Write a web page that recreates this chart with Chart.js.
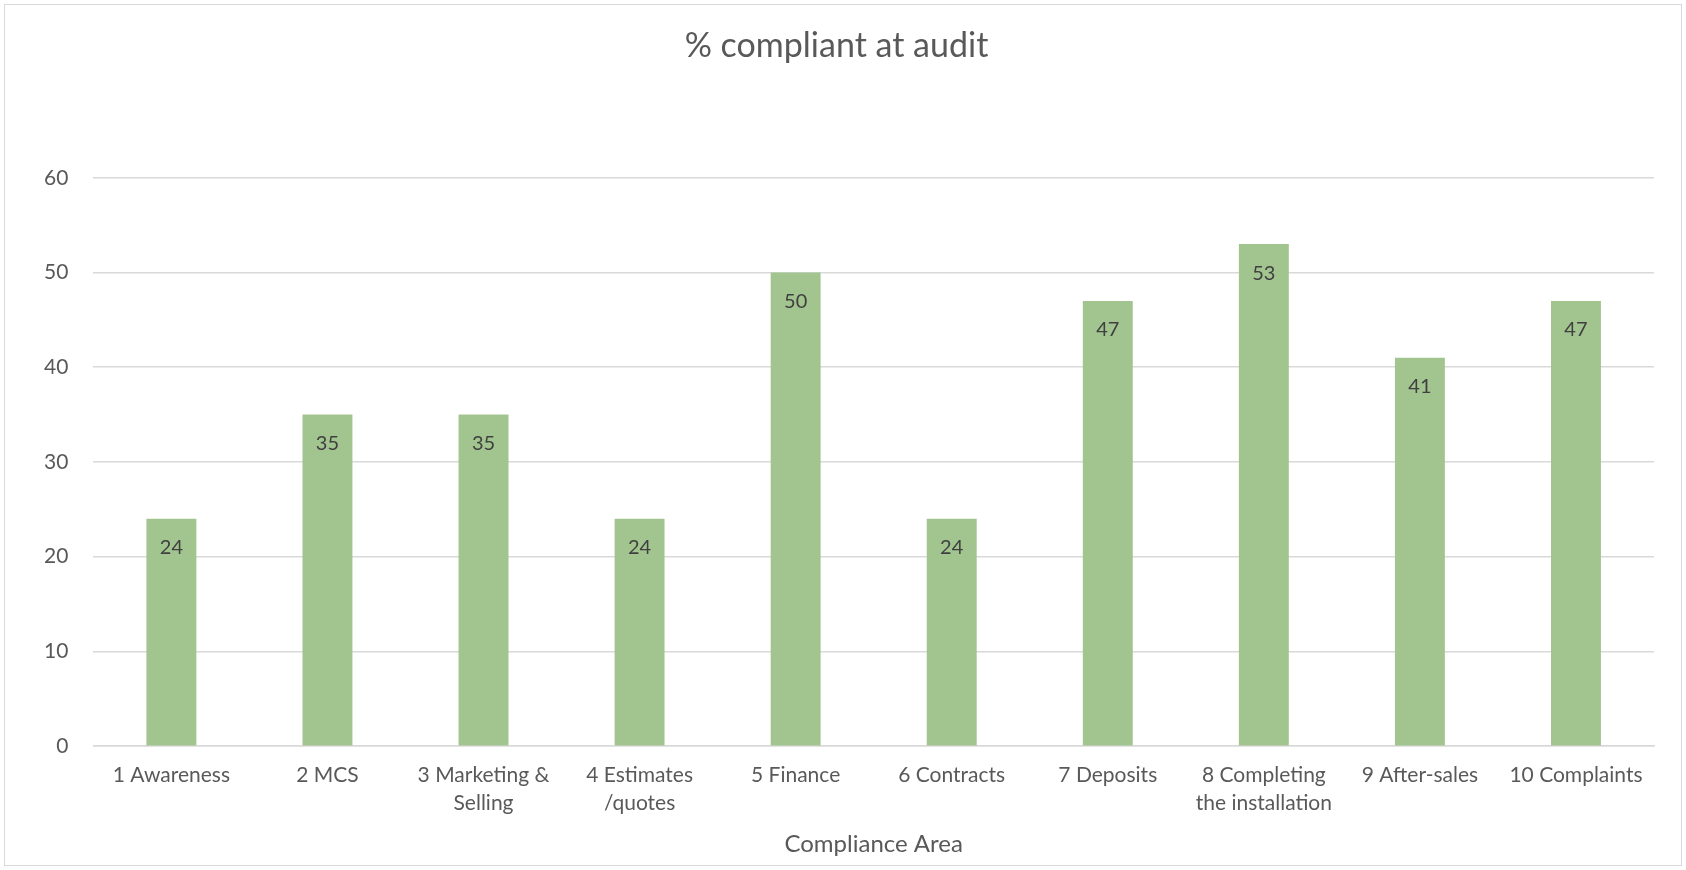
<!DOCTYPE html>
<html>
<head>
<meta charset="utf-8">
<script src="https://cdn.jsdelivr.net/npm/chart.js@4"></script>
<style>
    body { margin: 0; background: #fff; }
    #wrap {
        position: absolute; left: 4px; top: 4px;
        width: 1676px; height: 860px;
        border: 1px solid #d9d9d9;
    }
</style>
</head>
<body>
<div id="wrap"><canvas id="auditChart"></canvas></div>
<script>
// Dane wykresu
const categories = [
    '1 Awareness', '2 MCS', ['3 Marketing &', 'Selling'], ['4 Estimates', '/quotes'],
    '5 Finance', '6 Contracts', '7 Deposits', ['8 Completing', 'the installation'],
    '9 After-sales', '10 Complaints'
];
const compliantValues = [24, 35, 35, 24, 50, 24, 47, 53, 41, 47];
const yTicks = [0, 10, 20, 30, 40, 50, 60];

const fontFamily = 'Lato, "Open Sans", sans-serif';

// Etykiety wartości wewnątrz słupków
const valueLabels = {
    id: 'valueLabels',
    afterDatasetsDraw(chart) {
        const ctx = chart.ctx;
        const meta = chart.getDatasetMeta(0);
        ctx.save();
        ctx.font = '20px ' + fontFamily;
        ctx.fillStyle = '#404040';
        ctx.textAlign = 'center';
        ctx.textBaseline = 'middle';
        meta.data.forEach((bar, i) => {
            ctx.fillText(compliantValues[i], bar.x, bar.y + 29);
        });
        ctx.restore();
    }
};

const ctx = document.getElementById('auditChart').getContext('2d');

const chart = new Chart(ctx, {
    type: 'bar',
    data: {
        labels: categories,
        datasets: [{
            label: '% compliant at audit',
            data: compliantValues,
            backgroundColor: '#a2c590',
            barPercentage: 0.32,
            categoryPercentage: 1.0
        }]
    },
    options: {
        responsive: true,
        maintainAspectRatio: false,
        animation: false,
        layout: {
            padding: { left: 14, right: 27, top: 21, bottom: 9 }
        },
        plugins: {
            legend: { display: false },
            tooltip: { enabled: false },
            title: {
                display: true,
                text: '% compliant at audit',
                color: '#595959',
                font: { family: fontFamily, size: 34, weight: 'normal' },
                padding: { top: 0, bottom: 111 }
            }
        },
        scales: {
            x: {
                grid: { display: false, drawTicks: false },
                border: { color: '#d9d9d9', width: 1.5 },
                ticks: {
                    color: '#595959',
                    font: { family: fontFamily, size: 21, lineHeight: 1.33 },
                    padding: 15,
                    maxRotation: 0,
                    autoSkip: false
                },
                title: {
                    display: true,
                    text: 'Compliance Area',
                    color: '#595959',
                    font: { family: fontFamily, size: 24, lineHeight: 1.0 },
                    padding: { top: 0, bottom: 0 }
                }
            },
            y: {
                min: 0,
                max: 60,
                afterBuildTicks: axis => { axis.ticks = yTicks.map(v => ({ value: v })); },
                grid: { color: '#d9d9d9', lineWidth: 1.5, drawTicks: false },
                border: { display: false },
                ticks: {
                    color: '#595959',
                    font: { family: fontFamily, size: 21 },
                    padding: 25
                }
            }
        }
    },
    plugins: [valueLabels]
});
</script>
</body>
</html>
